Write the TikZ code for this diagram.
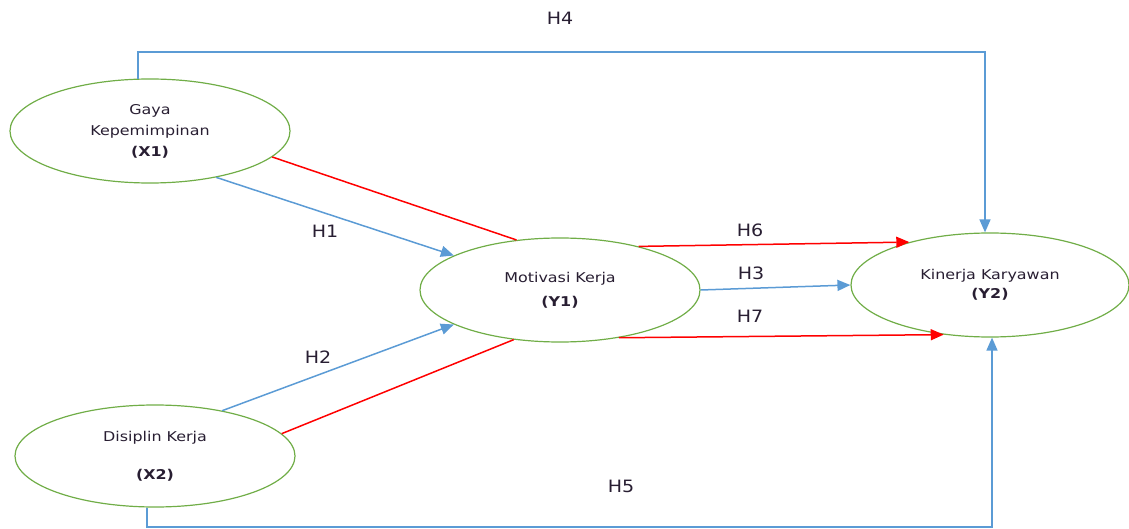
\documentclass[tikz,border=0pt]{standalone}
\usepackage{fontspec}
\setmainfont{DejaVu Sans}
\newfontfamily\ellfont[FakeStretch=1.18]{DejaVu Sans}
\newfontfamily\lblfont[FakeStretch=1.12]{DejaVu Sans}
\usetikzlibrary{shapes.geometric,arrows.meta}
\definecolor{lnblue}{RGB}{91,155,213}
\definecolor{lnred}{RGB}{255,0,0}
\definecolor{elgreen}{RGB}{112,173,71}
\definecolor{txt}{RGB}{40,30,50}
\begin{document}
\begin{tikzpicture}[x=1pt,y=-1pt,
  var/.style={ellipse,draw=elgreen,line width=1.2pt,minimum width=280pt,minimum height=104pt,
    inner sep=0pt,align=center,text=txt,font=\ellfont\fontsize{13.5}{21}\selectfont},
  blueline/.style={draw=lnblue,line width=1.5pt},
  redline/.style={draw=lnred,line width=1.5pt},
  tip/.style={-{Triangle[length=13pt,width=11pt]}},
  hlbl/.style={font=\lblfont\fontsize{17}{20}\selectfont,inner sep=0pt,text=txt}
]
\useasboundingbox (0,0) rectangle (1129,529);
\node[var] (X1) at (150,131) {Gaya\\Kepemimpinan\\\textbf{(X1)}};
\node[var] (Y1) at (560,290) {Motivasi Kerja\\[3pt]\textbf{(Y1)}};
\node[var,minimum width=278pt] (Y2) at (990,285) {Kinerja Karyawan\\[-2pt]\textbf{(Y2)}};
\node[var,minimum height=102pt] (X2) at (155,456) {Disiplin Kerja\\[17pt]\textbf{(X2)}};

\coordinate (h4c) at (560,52);
\coordinate (h5c) at (560,527);

% H4 and H5
\draw[blueline,tip] (X1.103) |- (h4c) -| ([xshift=-5pt]Y2.north);
\draw[blueline,tip] (X2.-99) |- (h5c) -| ([xshift=2pt]Y2.south);
% H1, H2
\draw[blueline,tip] (X1.-35) -- (Y1.162);
\draw[blueline,tip] (X2.34.5) -- (Y1.198.6);
% red to Y1
\draw[redline] (X1.-12) -- (Y1.131);
\draw[redline] (X2.10) -- (Y1.227.3);
% H6, H3, H7
\draw[redline,tip] (Y1.29.8) -- (Y2.152.9);
\draw[blueline,tip] (Y1.east) -- (Y2.west);
\draw[redline,tip] (Y1.-39) -- (Y2.227);

\node[hlbl] (H4) at (560,18) {H4};
\node[hlbl] (H1) at (325,231) {H1};
\node[hlbl] (H2) at (318,357) {H2};
\node[hlbl] (H6) at (750,230) {H6};
\node[hlbl] (H3) at (751,273) {H3};
\node[hlbl] (H7) at (750,316) {H7};
\node[hlbl] (H5) at (621,486) {H5};
\end{tikzpicture}
\end{document}
